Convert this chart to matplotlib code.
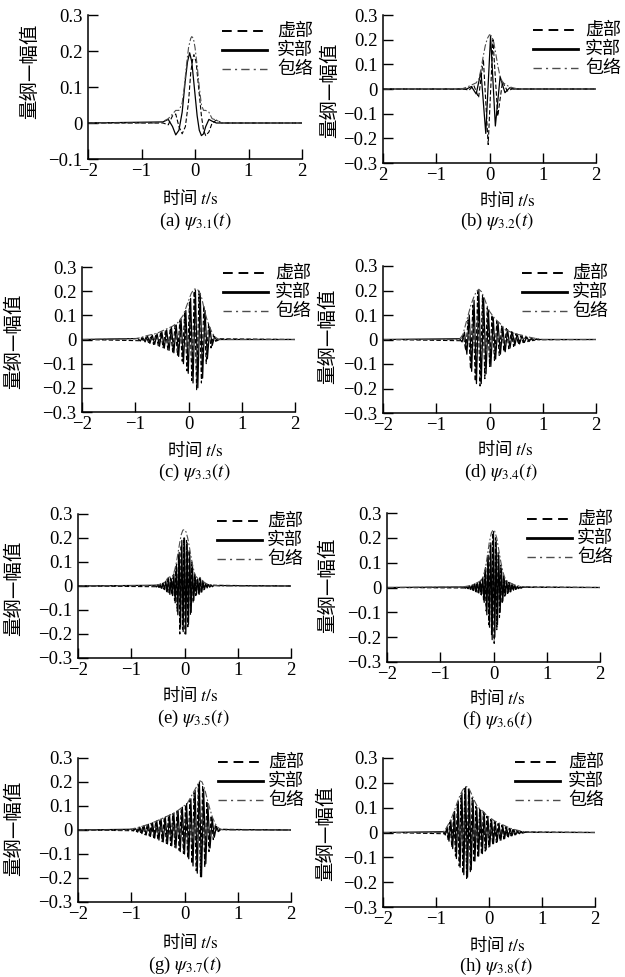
import numpy as np
import matplotlib
matplotlib.use("Agg")
import matplotlib.pyplot as plt
from matplotlib.lines import Line2D

plt.rcParams["font.family"] = ["Liberation Serif", "Noto Sans CJK SC", "DejaVu Sans"]
plt.rcParams["mathtext.fontset"] = "stix"
plt.rcParams["axes.unicode_minus"] = True

W, H = 625, 977
CJK = ["Noto Sans CJK SC", "DejaVu Sans"]

# ---- (a) psi_3.1 : slow wavelet, read point by point
A_REAL_T = [-2.0, -0.6, -0.5, -0.42, -0.36, -0.3, -0.24, -0.18, -0.14, -0.1, -0.06, -0.02,
            0.04, 0.08, 0.12, 0.16, 0.2, 0.26, 0.32, 0.4, 2.0]
A_REAL = [0, 0.003, 0.01, -0.01, -0.033, -0.02, 0.03, 0.12, 0.17, 0.195, 0.17, 0.11,
          0.02, -0.02, -0.035, -0.03, -0.01, 0.01, 0.005, 0, 0]
A_IMAG_T = [-2.0, -0.6, -0.5, -0.42, -0.36, -0.3, -0.24, -0.18, -0.12, -0.08, -0.04, -0.02,
            0.02, 0.06, 0.12, 0.16, 0.2, 0.26, 0.32, 0.4, 0.5, 2.0]
A_IMAG = [0, 0, -0.005, 0.02, 0.025, -0.01, -0.03, -0.01, 0.06, 0.14, 0.18, 0.19,
          0.17, 0.11, 0.02, -0.02, -0.035, -0.025, 0.0, 0.008, 0, 0]
A_ENV_T = [-2.0, -0.7, -0.6, -0.5, -0.42, -0.36, -0.3, -0.24, -0.2, -0.16, -0.12, -0.08,
           -0.06, -0.03, 0.0, 0.04, 0.08, 0.12, 0.16, 0.2, 0.26, 0.32, 0.4, 0.5, 2.0]
A_ENV = [0, 0, 0.004, 0.012, 0.025, 0.035, 0.035, 0.055, 0.1, 0.16, 0.21, 0.235,
         0.24, 0.235, 0.21, 0.16, 0.1, 0.05, 0.035, 0.035, 0.03, 0.012, 0.008, 0, 0]

# ---- (b) psi_3.2 : extrema of real / imaginary parts
B_REAL_T = [-2.0, -0.43, -0.34, -0.25, -0.16, -0.07, 0.02, 0.11, 0.20, 0.29, 0.38, 0.47, 2.0]
B_REAL = [0, 0, 0.01, -0.02, 0.07, -0.18, 0.215, -0.15, 0.05, -0.015, 0.005, 0, 0]
B_IMAG_T = [-2.0, -0.475, -0.385, -0.295, -0.205, -0.115, -0.025, 0.065, 0.155, 0.245,
            0.335, 0.425, 2.0]
B_IMAG = [0, 0, -0.005, 0.015, -0.035, 0.12, -0.225, 0.2, -0.11, 0.03, -0.008, 0, 0]
B_ENV_T = [-2.0, -0.5, -0.42, -0.35, -0.3, -0.25, -0.2, -0.16, -0.12, -0.08, -0.04, 0.0,
           0.04, 0.08, 0.12, 0.16, 0.2, 0.25, 0.3, 0.35, 0.42, 0.5, 0.6, 2.0]
B_ENV = [0, 0.002, 0.008, 0.015, 0.02, 0.025, 0.04, 0.08, 0.13, 0.175, 0.205, 0.22,
         0.215, 0.19, 0.14, 0.09, 0.05, 0.025, 0.02, 0.012, 0.006, 0.002, 0, 0]

# ---- (c) psi_3.3 : first extremum time, spacing, extremum values
C_REAL_T0, C_IMAG_T0, C_DT = -0.95, -0.9275, 0.045
C_REAL = [0.004, -0.006, 0.008, -0.01, 0.014, -0.016, 0.018, -0.02, 0.024, -0.028,
          0.032, -0.036, 0.04, -0.045, 0.05, -0.055, 0.06, -0.07, 0.085, -0.1,
          0.12, -0.14, 0.17, -0.18, 0.205, -0.2, 0.19, -0.16, 0.12, -0.08,
          0.05, -0.025, 0.012, -0.005, 0.0]
C_IMAG = [-0.005, 0.007, -0.009, 0.012, -0.015, 0.017, -0.02, 0.022, -0.026, 0.03,
          -0.034, 0.038, -0.043, 0.047, -0.052, 0.058, -0.065, 0.078, -0.09, 0.11,
          -0.13, 0.155, -0.17, 0.2, -0.21, 0.2, -0.18, 0.14, -0.1, 0.065,
          -0.035, 0.018, -0.008, 0.003]
C_ENV_T = [-2.0, -1.0, -0.9, -0.8, -0.7, -0.6, -0.5, -0.4, -0.3, -0.2, -0.1, -0.05, 0.0,
           0.05, 0.1, 0.15, 0.2, 0.25, 0.3, 0.35, 0.4, 0.45, 0.5, 0.55, 0.6, 2.0]
C_ENV = [0, 0.003, 0.008, 0.015, 0.02, 0.025, 0.035, 0.045, 0.055, 0.07, 0.1, 0.13, 0.16,
         0.19, 0.208, 0.21, 0.2, 0.17, 0.12, 0.08, 0.05, 0.025, 0.01, 0.003, 0, 0]

# ---- (d) psi_3.4
D_REAL_T0, D_IMAG_T0, D_DT = -0.56, -0.5375, 0.045
D_REAL = [0.003, -0.01, 0.03, -0.06, 0.1, -0.13, 0.16, -0.18, 0.2, -0.18,
          0.17, -0.14, 0.12, -0.11, 0.09, -0.08, 0.07, -0.06, 0.05, -0.05,
          0.04, -0.035, 0.03, -0.025, 0.022, -0.018, 0.015, -0.012, 0.01, -0.008,
          0.006, -0.004, 0.002, 0.0]
D_IMAG = [-0.005, 0.018, -0.045, 0.08, -0.12, 0.14, -0.17, 0.195, -0.19, 0.18,
          -0.16, 0.13, -0.11, 0.1, -0.085, 0.075, -0.065, 0.055, -0.05, 0.045,
          -0.038, 0.032, -0.028, 0.024, -0.02, 0.016, -0.013, 0.011, -0.009, 0.007,
          -0.005, 0.003, -0.001]
D_ENV_T = [-2.0, -0.6, -0.55, -0.5, -0.45, -0.4, -0.35, -0.3, -0.25, -0.2, -0.15, -0.1,
           -0.05, 0.0, 0.05, 0.1, 0.15, 0.2, 0.3, 0.4, 0.5, 0.6, 0.7, 0.8, 0.9, 1.0, 2.0]
D_ENV = [0, 0, 0.005, 0.02, 0.06, 0.1, 0.14, 0.17, 0.195, 0.205, 0.195, 0.17,
         0.14, 0.115, 0.1, 0.085, 0.075, 0.065, 0.04, 0.03, 0.022, 0.018, 0.012, 0.007,
         0.003, 0, 0]

# ---- (e) psi_3.5
E_REAL_T0, E_IMAG_T0, E_DT = -0.55, -0.5375, 0.025
E_REAL = [0.003, -0.004, 0.005, -0.006, 0.008, -0.01, 0.012, -0.015, 0.02, -0.025,
          0.032, -0.035, 0.03, -0.04, 0.05, -0.07, 0.09, -0.12, 0.14, -0.17,
          0.19, -0.19, 0.2, -0.2, 0.18, -0.16, 0.13, -0.11, 0.08, -0.06,
          0.045, -0.035, 0.03, -0.035, 0.03, -0.025, 0.018, -0.014, 0.01, -0.008,
          0.006, -0.005, 0.004, -0.003, 0.002]
E_IMAG = [-0.003, 0.004, -0.005, 0.007, -0.009, 0.011, -0.013, 0.017, -0.022, 0.03,
          -0.034, 0.033, -0.035, 0.045, -0.06, 0.08, -0.105, 0.13, -0.2, 0.17,
          -0.18, 0.2, -0.2, 0.19, -0.17, 0.15, -0.12, 0.1, -0.07, 0.05,
          -0.04, 0.032, -0.03, 0.034, -0.03, 0.022, -0.016, 0.012, -0.009, 0.007,
          -0.006, 0.005, -0.004, 0.003]
E_ENV_T = [-2.0, -0.6, -0.5, -0.45, -0.4, -0.35, -0.32, -0.28, -0.25, -0.22, -0.18, -0.15,
           -0.12, -0.09, -0.06, -0.03, 0.0, 0.03, 0.06, 0.09, 0.12, 0.15, 0.18, 0.21,
           0.25, 0.29, 0.33, 0.38, 0.45, 0.55, 0.65, 2.0]
E_ENV = [0, 0.002, 0.005, 0.008, 0.012, 0.02, 0.032, 0.038, 0.035, 0.04, 0.07, 0.1,
         0.14, 0.18, 0.215, 0.233, 0.235, 0.225, 0.2, 0.165, 0.125, 0.09, 0.06, 0.04,
         0.033, 0.036, 0.025, 0.013, 0.007, 0.003, 0, 0]

# ---- (f) psi_3.6
F_REAL_T0, F_IMAG_T0, F_DT = -0.55, -0.5375, 0.025
F_REAL = [0.002, -0.003, 0.004, -0.005, 0.006, -0.008, 0.01, -0.012, 0.015, -0.018,
          0.02, -0.022, 0.025, -0.03, 0.04, -0.06, 0.08, -0.11, 0.13, -0.16,
          0.18, -0.21, 0.225, -0.2, 0.19, -0.15, 0.13, -0.1, 0.075, -0.055,
          0.04, -0.03, 0.025, -0.022, 0.02, -0.017, 0.014, -0.011, 0.009, -0.007,
          0.005, -0.004, 0.003, -0.002, 0.001]
F_IMAG = [-0.002, 0.003, -0.004, 0.005, -0.007, 0.009, -0.011, 0.013, -0.016, 0.019,
          -0.021, 0.024, -0.028, 0.035, -0.05, 0.07, -0.095, 0.12, -0.15, 0.17,
          -0.19, 0.22, -0.225, 0.2, -0.17, 0.14, -0.12, 0.09, -0.065, 0.047,
          -0.035, 0.028, -0.024, 0.021, -0.018, 0.015, -0.012, 0.01, -0.008, 0.006,
          -0.005, 0.004, -0.003, 0.002]
F_ENV_T = [-2.0, -0.6, -0.5, -0.4, -0.3, -0.25, -0.2, -0.16, -0.12, -0.08, -0.04, -0.01,
           0.02, 0.06, 0.1, 0.14, 0.18, 0.22, 0.26, 0.3, 0.4, 0.5, 0.6, 0.7, 2.0]
F_ENV = [0, 0.002, 0.005, 0.01, 0.02, 0.026, 0.04, 0.07, 0.12, 0.18, 0.22, 0.232,
         0.228, 0.2, 0.15, 0.1, 0.06, 0.035, 0.025, 0.02, 0.01, 0.005, 0.002, 0, 0]

# ---- (g) psi_3.7
G_REAL_T0, G_IMAG_T0, G_DT = -1.0, -0.98, 0.04
G_REAL = [0.003, -0.004, 0.006, -0.009, 0.012, -0.015, 0.018, -0.021, 0.024, -0.027,
          0.03, -0.034, 0.038, -0.042, 0.046, -0.05, 0.054, -0.058, 0.062, -0.066,
          0.07, -0.075, 0.08, -0.09, 0.095, -0.1, 0.11, -0.12, 0.13, -0.15,
          0.165, -0.18, 0.2, -0.195, 0.17, -0.14, 0.1, -0.075, 0.05, -0.03,
          0.015, -0.006, 0.002]
G_IMAG = [-0.003, 0.005, -0.007, 0.01, -0.013, 0.016, -0.02, 0.022, -0.025, 0.028,
          -0.032, 0.036, -0.04, 0.044, -0.048, 0.052, -0.056, 0.06, -0.064, 0.068,
          -0.072, 0.078, -0.085, 0.09, -0.098, 0.105, -0.115, 0.125, -0.14, 0.155,
          -0.17, 0.19, -0.195, 0.185, -0.155, 0.12, -0.09, 0.06, -0.04, 0.022,
          -0.01, 0.003]
G_ENV_T = [-2.0, -1.05, -1.0, -0.9, -0.8, -0.7, -0.6, -0.5, -0.4, -0.3, -0.2, -0.1, 0.0,
           0.05, 0.1, 0.15, 0.2, 0.25, 0.29, 0.33, 0.38, 0.43, 0.48, 0.53, 0.58, 0.63,
           0.68, 0.75, 2.0]
G_ENV = [0, 0, 0.004, 0.009, 0.015, 0.022, 0.03, 0.04, 0.05, 0.06, 0.07, 0.085, 0.102,
         0.11, 0.13, 0.15, 0.17, 0.19, 0.205, 0.2, 0.17, 0.125, 0.085, 0.05, 0.025, 0.01,
         0.003, 0, 0]

# ---- (h) psi_3.8
H_REAL_T0, H_IMAG_T0, H_DT = -0.86, -0.8425, 0.035
H_REAL = [0.003, -0.01, 0.022, -0.035, 0.05, -0.065, 0.085, -0.105, 0.125, -0.14,
          0.16, -0.17, 0.183, -0.18, 0.17, -0.15, 0.13, -0.115, 0.1, -0.095,
          0.09, -0.085, 0.08, -0.07, 0.062, -0.056, 0.05, -0.045, 0.042, -0.038,
          0.035, -0.031, 0.028, -0.025, 0.022, -0.018, 0.015, -0.013, 0.011, -0.009,
          0.007, -0.005, 0.004, -0.002, 0.001]
H_IMAG = [-0.005, 0.015, -0.028, 0.042, -0.058, 0.075, -0.095, 0.115, -0.135, 0.15,
          -0.165, 0.178, -0.185, 0.175, -0.16, 0.14, -0.12, 0.105, -0.1, 0.093,
          -0.088, 0.083, -0.075, 0.066, -0.059, 0.053, -0.048, 0.044, -0.04, 0.036,
          -0.033, 0.03, -0.026, 0.023, -0.02, 0.017, -0.014, 0.012, -0.01, 0.008,
          -0.006, 0.005, -0.003, 0.002]
H_ENV_T = [-2.0, -0.9, -0.85, -0.8, -0.75, -0.7, -0.65, -0.6, -0.55, -0.5, -0.45, -0.42,
           -0.38, -0.33, -0.28, -0.22, -0.16, -0.11, -0.05, 0.0, 0.05, 0.1, 0.2, 0.3,
           0.4, 0.5, 0.6, 0.7, 0.8, 2.0]
H_ENV = [0, 0, 0.005, 0.02, 0.04, 0.062, 0.09, 0.12, 0.148, 0.17, 0.183, 0.185,
         0.178, 0.155, 0.13, 0.105, 0.092, 0.085, 0.07, 0.062, 0.055, 0.047, 0.037, 0.027,
         0.017, 0.011, 0.006, 0.002, 0, 0]

X_TICKS = [-2, -1, 0, 1, 2]
X_LABELS = ["−2", "−1", "0", "1", "2"]
X_LABELS_B = ["2", "−1", "0", "1", "2"]
Y_TICKS_A = [-0.1, 0, 0.1, 0.2, 0.3]
Y_LABELS_A = ["−0.1", "0", "0.1", "0.2", "0.3"]
Y_TICKS = [-0.3, -0.2, -0.1, 0, 0.1, 0.2, 0.3]
Y_LABELS = ["−0.3", "−0.2", "−0.1", "0", "0.1", "0.2", "0.3"]
LEGEND_LABELS = ["虚部", "实部", "包络"]
CAPTIONS = ["(a)", "(b)", "(c)", "(d)", "(e)", "(f)", "(g)", "(h)"]
SUBSCRIPTS = ["3.1", "3.2", "3.3", "3.4", "3.5", "3.6", "3.7", "3.8"]


def zigzag(t0, dt, vals):
    t = t0 + dt * np.arange(len(vals))
    return np.r_[-2.0, t, 2.0], np.r_[0.0, vals, 0.0]


PANELS = [
    ((A_IMAG_T, A_IMAG), (A_REAL_T, A_REAL), (A_ENV_T, A_ENV)),
    ((B_IMAG_T, B_IMAG), (B_REAL_T, B_REAL), (B_ENV_T, B_ENV)),
    (zigzag(C_IMAG_T0, C_DT, C_IMAG), zigzag(C_REAL_T0, C_DT, C_REAL), (C_ENV_T, C_ENV)),
    (zigzag(D_IMAG_T0, D_DT, D_IMAG), zigzag(D_REAL_T0, D_DT, D_REAL), (D_ENV_T, D_ENV)),
    (zigzag(E_IMAG_T0, E_DT, E_IMAG), zigzag(E_REAL_T0, E_DT, E_REAL), (E_ENV_T, E_ENV)),
    (zigzag(F_IMAG_T0, F_DT, F_IMAG), zigzag(F_REAL_T0, F_DT, F_REAL), (F_ENV_T, F_ENV)),
    (zigzag(G_IMAG_T0, G_DT, G_IMAG), zigzag(G_REAL_T0, G_DT, G_REAL), (G_ENV_T, G_ENV)),
    (zigzag(H_IMAG_T0, H_DT, H_IMAG), zigzag(H_REAL_T0, H_DT, H_REAL), (H_ENV_T, H_ENV)),
]

# layout in pixels: axes box (left, right, top, bottom), legend (line start from right,
# text start from right, first row from top), ylabel centre, xlabel centre, caption centre
LAYOUT = [
    dict(box=(88, 302, 15, 159), leg=(80, 25, 16), ylab=(30, 71), xlab=(190, 198), cap=(195, 221)),
    dict(box=(383, 596, 15, 163), leg=(63, 11, 15), ylab=(330, 90), xlab=(507, 200), cap=(497, 221)),
    dict(box=(82, 295, 267, 412), leg=(72, 20, 6), ylab=(14, 341), xlab=(195, 450), cap=(194, 472)),
    dict(box=(383, 596, 266, 413), leg=(74, 24, 7), ylab=(328, 336), xlab=(505, 449), cap=(501, 472)),
    dict(box=(78, 291, 514, 658), leg=(74, 24, 7), ylab=(14, 588), xlab=(190, 695), cap=(193, 718)),
    dict(box=(387, 600, 513, 662), leg=(73, 23, 6), ylab=(328, 585), xlab=(497, 698), cap=(497, 720)),
    dict(box=(78, 291, 758, 902), leg=(73, 23, 4), ylab=(14, 828), xlab=(190, 942), cap=(185, 965)),
    dict(box=(383, 595, 758, 907), leg=(80, 27, 4), ylab=(326, 833), xlab=(497, 945), cap=(496, 966)),
]

fig = plt.figure(figsize=(W / 100, H / 100), dpi=100)


def fx(x):
    return x / W


def fy(y):
    return 1 - y / H


styles = [
    dict(color="black", lw=0.8, ls=(0, (4, 2))),
    dict(color="black", lw=0.9, ls="-"),
    dict(color="0.3", lw=0.8, ls=(0, (6, 2, 1.5, 2))),
]
legend_styles = [
    dict(color="black", lw=1.4, ls=(0, (5, 3))),
    dict(color="black", lw=2.0, ls="-"),
    dict(color="0.3", lw=1.0, ls=(0, (6, 3, 1.5, 3))),
]

for i, (series, lay) in enumerate(zip(PANELS, LAYOUT)):
    l, r, t, b = lay["box"]
    ax = fig.add_axes([fx(l), fy(b), (r - l) / W, (b - t) / H])
    for (xs, ys), st in zip(series, styles):
        ax.plot(xs, ys, **st)

    ax.set_xlim(-2, 2)
    ax.set_xticks(X_TICKS)
    ax.set_xticklabels(X_LABELS_B if i == 1 else X_LABELS)
    if i == 0:
        ax.set_ylim(-0.1, 0.3)
        ax.set_yticks(Y_TICKS_A)
        ax.set_yticklabels(Y_LABELS_A)
    else:
        ax.set_ylim(-0.3, 0.3)
        ax.set_yticks(Y_TICKS)
        ax.set_yticklabels(Y_LABELS)
    for side in ("top", "right"):
        ax.spines[side].set_visible(False)
    for side in ("left", "bottom"):
        ax.spines[side].set_linewidth(1.1)
    ax.tick_params(direction="in", length=7, width=1.0, labelsize=13.5)
    ax.tick_params(axis="x", pad=3)
    ax.tick_params(axis="y", pad=4)

    # legend drawn by hand, right of the data area
    x0, xt, y0 = lay["leg"]
    for k, (lab, st) in enumerate(zip(LEGEND_LABELS, legend_styles)):
        yy = t + y0 + 19 * k
        fig.add_artist(Line2D([fx(r - x0), fx(r - x0 + 45)], [fy(yy), fy(yy)],
                              transform=fig.transFigure, **st))
        fig.text(fx(r - xt), fy(yy), lab, family=CJK, fontsize=13,
                 ha="left", va="center")

    fig.text(fx(lay["ylab"][0]), fy(lay["ylab"][1]), "量纲—幅值", family=CJK,
             fontsize=14, rotation=90, ha="center", va="center")
    fig.text(fx(lay["xlab"][0]), fy(lay["xlab"][1]), r"时间 $t/\mathrm{s}$",
             family=CJK, fontsize=12.5, ha="center", va="center")
    fig.text(fx(lay["cap"][0]), fy(lay["cap"][1]),
             CAPTIONS[i] + r" $\psi_{" + SUBSCRIPTS[i] + r"}(t)$",
             fontsize=13.5, ha="center", va="center")

fig.savefig("out.png", dpi=100)
